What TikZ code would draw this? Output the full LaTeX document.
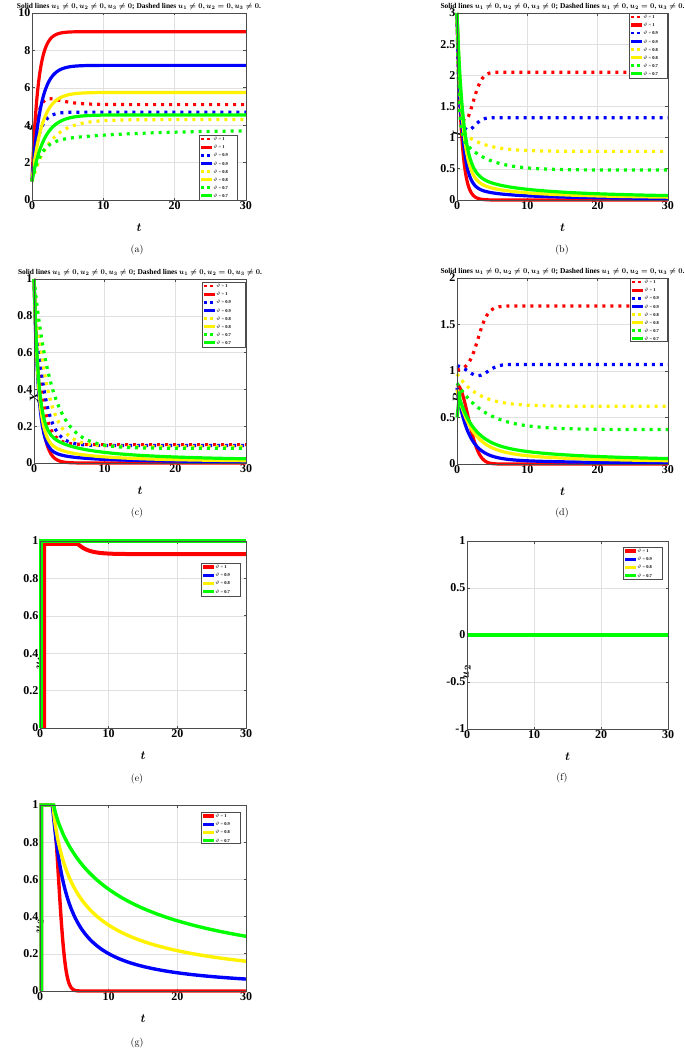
\documentclass[tikz,border=0pt]{standalone}
\usepackage{amsmath}
\usepackage{fontspec}
\usepackage{graphicx}
\newfontfamily\tms{Liberation Serif}
\tikzset{
  gridc/.style={black!12,line width=0.5pt},
  axc/.style={black!70,line width=0.7pt},
  tick/.style={font=\tms\bfseries\fontsize{12}{12}\selectfont,inner sep=1.5pt},
  alab/.style={font=\tms\bfseries\itshape\fontsize{13}{13}\selectfont},
  capt/.style={font=\fontsize{10}{10}\selectfont},
  dsh/.style={line width=3.2pt,dash pattern=on 3pt off 5pt},
  sld/.style={line width=3.2pt},
  ldsh/.style={line width=2.6pt,dash pattern=on 3pt off 3pt},
  legbox/.style={draw=black!70,fill=white,line width=0.6pt},
  legtxt/.style={font=\tms\fontsize{4.5}{5}\selectfont,inner sep=0.5pt}
}
\newcommand\myaxes[6]{% ymin, ymax, ylist, ylabel, labshift, ymid
  \foreach \v in {#3} {
    \draw[gridc] (0,\v)--(30,\v);
    \node[tick,left] at (0,\v) {\v};
  }
  \foreach \v in {0,10,20,30} {
    \draw[gridc] (\v,#1)--(\v,#2);
    \node[tick,below] at (\v,#1) {\v};
  }
  \foreach \v in {#3} {\draw[axc] (30,\v)--++(-2.5pt,0) (0,\v)--++(2.5pt,0);}
  \foreach \v in {0,10,20,30} {\draw[axc] (\v,#1)--++(0,2.5pt) (\v,#2)--++(0,-2.5pt);}
  \node[alab] at (15,#1) [yshift=-28pt] {$\boldsymbol{t}$};
  \node[alab,rotate=90] at (0,#6) [xshift=-#5] {#4};
}
\newcommand\myframe[2]{\draw[axc] (0,#1) rectangle (30,#2);}
\newcommand\mytitle[1]{\node[anchor=south,inner sep=0pt] (ttl) at (15,#1) [yshift=3pt]
  {\resizebox{244pt}{!}{\tms\bfseries Solid lines $\boldsymbol{u_1 \neq 0, u_2 \neq 0, u_3 \neq 0}$; Dashed lines $\boldsymbol{u_1 \neq 0, u_2 = 0, u_3 \neq 0}$.}};}
\newcommand\leg[5]{%
  \draw[legbox] (#1,#2) rectangle (#3,#4);
  \foreach \c/\s/\l [count=\i] in #5 {
    \draw[\c,\s] ({#1+2},{#2+4+(\i-1)*8.1}) -- ({#1+13},{#2+4+(\i-1)*8.1});
    \node[legtxt,anchor=west] at ({#1+13.5},{#2+4+(\i-1)*8.1}) {$\vartheta$ = \textbf{\l}};
  }}
\def\legeight{red/ldsh/1,red/sld/1,blue/ldsh/0.9,blue/sld/0.9,yellow/ldsh/0.8,yellow/sld/0.8,green/ldsh/0.7,green/sld/0.7}
\def\legfour{red/sld/1,blue/sld/0.9,yellow/sld/0.8,green/sld/0.7}
\begin{document}
\begin{tikzpicture}[x=1pt,y=-1pt]
\useasboundingbox[fill=white] (0,0) rectangle (685,1049);
% ---------- (a)
\begin{scope}[shift={(32,200)},x=7.133pt,y=18.7pt]
\myaxes{0}{10}{0,2,4,6,8,10}{$\boldsymbol{S}$}{22pt}{5}
\mytitle{10}
\begin{scope}[smooth]
\draw[red,dsh] plot[domain=0:30,samples=150] (\x,{5.1-4.1*exp(-\x/0.6)+0.8*\x*exp(-\x/1.5)});
\draw[red,sld] plot[domain=0:30,samples=150] (\x,{1+8*(1-exp(-\x/0.85))});
\draw[blue,dsh] plot[domain=0:30,samples=150] (\x,{1+3.7*(1-exp(-\x/0.9))});
\draw[blue,sld] plot[domain=0:30,samples=150] (\x,{1+6.2*(1-exp(-\x/1.2))});
\draw[yellow,dsh] plot[domain=0:30,samples=150] (\x,{1+3.3*(1-exp(-\x/2.5))});
\draw[yellow,sld] plot[domain=0:30,samples=150] (\x,{1+4.75*(1-exp(-\x/1.4))});
\draw[green,dsh] plot[domain=0:30,samples=150] (\x,{1+2.1*(1-exp(-\x/1.2))+0.65*(1-exp(-\x/12))});
\draw[green,sld] plot[domain=0:30,samples=150] (\x,{1+3.55*(1-exp(-\x/1.7))});
\end{scope}
\myframe{0}{10}
\end{scope}
\leg{199}{135}{237}{200}{\legeight}
\node[capt] (ca) at (137,250) {(a)};
% ---------- (b)
\begin{scope}[shift={(457,200)},x=7.033pt,y=62.33pt]
\myaxes{0}{3}{0,0.5,1,1.5,2,2.5,3}{$\boldsymbol{I}$}{27pt}{1.5}
\mytitle{3}
\begin{scope}[smooth]
\draw[red,dsh] plot[domain=0:30,samples=150] (\x,{2.05-0.8*exp(-((\x-1)/1.8)*((\x-1)/1.8))+1.5*exp(-4*\x)});
\draw[red,sld] plot[domain=0:30,samples=150] (\x,{3*exp(-1.6*\x)});
\draw[blue,dsh] plot[domain=0:30,samples=150] (\x,{1.32-0.2*exp(-((\x-1.5)/1.5)*((\x-1.5)/1.5))+1.7*exp(-4*\x)});
\draw[blue,sld] plot[domain=0:30,samples=150] (\x,{2.6*exp(-1.5*\x)+0.4/(1+\x/2)});
\draw[yellow,dsh] plot[domain=0:30,samples=150] (\x,{0.78+0.4*exp(-\x/3)+1.82*exp(-4*\x)});
\draw[yellow,sld] plot[domain=0:30,samples=150] (\x,{2.5*exp(-1.3*\x)+0.5/(1+\x/3)});
\draw[green,dsh] plot[domain=0:30,samples=150] (\x,{0.48+0.6*exp(-\x/3.5)+1.92*exp(-4*\x)});
\draw[green,sld] plot[domain=0:30,samples=150] (\x,{2.4*exp(-1.2*\x)+0.6/(1+\x/4)});
\end{scope}
\myframe{0}{3}
\end{scope}
\leg{629}{13}{667}{78}{\legeight}
\node[capt] (cb) at (562,250) {(b)};
% ---------- (c)
\begin{scope}[shift={(34,463)},x=7.067pt,y=184pt]
\myaxes{0}{1}{0,0.2,0.4,0.6,0.8,1}{$\boldsymbol{X}$}{26pt}{0.5}
\mytitle{1}
\begin{scope}[smooth]
\draw[red,dsh] plot[domain=0:30,samples=150] (\x,{0.1+0.9*exp(-\x)});
\draw[red,sld] plot[domain=0:30,samples=150] (\x,{exp(-\x/0.8)});
\draw[blue,dsh] plot[domain=0:30,samples=150] (\x,{0.095+0.905*exp(-\x/1.3)});
\draw[blue,sld] plot[domain=0:30,samples=150] (\x,{0.85*exp(-\x/0.6)+0.15/(1+\x/1.5)});
\draw[yellow,dsh] plot[domain=0:30,samples=150] (\x,{0.09+0.91*exp(-\x/1.8)});
\draw[yellow,sld] plot[domain=0:30,samples=150] (\x,{0.8*exp(-\x/0.6)+0.2/(1+\x/2)});
\draw[green,dsh] plot[domain=0:30,samples=150] (\x,{0.08+0.92*exp(-\x/2.5)});
\draw[green,sld] plot[domain=0:30,samples=150] (\x,{0.75*exp(-\x/0.6)+0.25/(1+\x/3)});
\end{scope}
\myframe{0}{1}
\end{scope}
\leg{202}{282}{245}{347}{\legeight}
\node[capt] (cc) at (137,513) {(c)};
% ---------- (d)
\begin{scope}[shift={(457,464)},x=7.033pt,y=93pt]
\myaxes{0}{2}{0,0.5,1,1.5,2}{$\boldsymbol{R}$}{27pt}{1}
\mytitle{2}
\begin{scope}[smooth]
\draw[red,dsh] plot[domain=0:30,samples=150] (\x,{1.7-0.7*exp(-(\x-3)/0.7)/(1+exp(-(\x-3)/0.7))});
\draw[red,sld] plot[domain=0:30,samples=150] (\x,{0.85*exp(-(\x/2.2)*(\x/2.2))});
\draw[blue,dsh] plot[domain=0:30,samples=150] (\x,{1.07-0.12*exp(-((\x-3)/2)*((\x-3)/2))});
\draw[blue,sld] plot[domain=0:30,samples=150] (\x,{0.62*exp(-\x/1.6)+0.2/(1+\x/2)});
\draw[yellow,dsh] plot[domain=0:30,samples=150] (\x,{0.62+0.35*exp(-\x/3)});
\draw[yellow,sld] plot[domain=0:30,samples=150] (\x,{0.5*exp(-\x/2)+0.3/(1+\x/4)});
\draw[green,dsh] plot[domain=0:30,samples=150] (\x,{0.37+0.5*exp(-\x/4)});
\draw[green,sld] (0,0.5)--(0.4,0.78)-- plot[domain=0.4:30,samples=150] (\x,{0.45*exp(-\x/2)+0.35/(1+\x/6)});
\end{scope}
\myframe{0}{2}
\end{scope}
\leg{630}{278}{667}{341}{\legeight}
\node[capt] (cd) at (562,513) {(d)};
% ---------- (e)
\begin{scope}[shift={(40,728)},x=6.867pt,y=187pt]
\myaxes{0}{1}{0,0.2,0.4,0.6,0.8,1}{$\boldsymbol{u_1}$}{28pt}{0.5}
\begin{scope}[line width=4pt]
\draw[red] (0.6,0)--(0.6,0.985)--(5.5,0.985)-- plot[domain=5.5:30,samples=80,smooth] (\x,{0.93+0.055*exp(-(\x-5.5)/1.5)});
\draw[blue] (0.2,0)--(0.2,1)--(30,1);
\draw[yellow] (0.2,0)--(0.2,1)--(30,1);
\draw[green] (0.2,0)--(0.2,1)--(30,1);
\end{scope}
\myframe{0}{1}
\end{scope}
\leg{201}{563}{240}{596}{\legfour}
\node[capt] (ce) at (137,779) {(e)};
% ---------- (f)
\begin{scope}[shift={(467,635)},x=6.7pt,y=94pt]
\myaxes{-1}{1}{-1,-0.5,0,0.5,1}{$\boldsymbol{u_2}$}{37pt}{0}
\draw[green,line width=4pt] (0,0)--(30,0);
\myframe{-1}{1}
\end{scope}
\leg{623}{547}{662}{579}{\legfour}
\node[capt] (cf) at (562,778) {(f)};
% ---------- (g)
\begin{scope}[shift={(40,991)},x=6.867pt,y=186pt]
\myaxes{0}{1}{0,0.2,0.4,0.6,0.8,1}{$\boldsymbol{u_3}$}{28pt}{0.5}
\begin{scope}[line width=3.4pt]
\draw[red] (0.2,0)--(0.2,1)--(1.7,1)-- plot[domain=1.7:30,samples=120,smooth] (\x,{exp(-(\x-1.7)*(\x-1.7)/2)});
\draw[blue] (0.2,0)--(0.2,1)--(1.8,1)-- plot[domain=1.81:30,samples=120,smooth] (\x,{1/(1+pow((\x-1.8)/2.2,1.05))});
\draw[yellow] (0.2,0)--(0.2,1)--(1.9,1)-- plot[domain=1.91:30,samples=120,smooth] (\x,{1/(1+pow((\x-1.9)/4,0.85))});
\draw[green] (0.2,0)--(0.2,1)--(2,1)-- plot[domain=2.01:30,samples=120,smooth] (\x,{1/(1+pow((\x-2)/10,0.85))});
\end{scope}
\myframe{0}{1}
\end{scope}
\leg{201}{812}{240}{843}{\legfour}
\node[capt] (cg) at (137,1043) {(g)};
\end{tikzpicture}
\end{document}
